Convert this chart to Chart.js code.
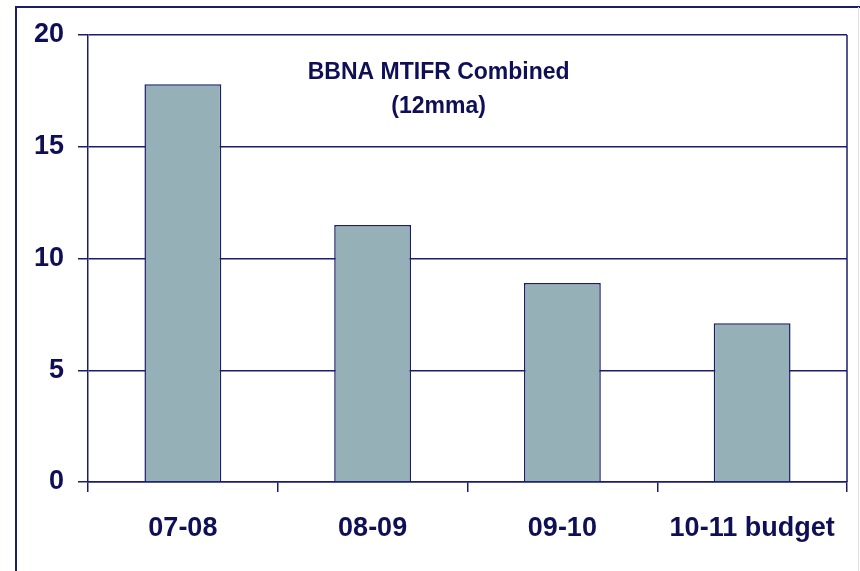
<!DOCTYPE html>
<html>
<head>
<meta charset="utf-8">
<script src="https://cdn.jsdelivr.net/npm/chart.js@4.4.0/dist/chart.umd.min.js"></script>
<style>
  html, body { margin: 0; padding: 0; background: #ffffff; }
  #wrap { position: relative; width: 860px; height: 571px; }
</style>
</head>
<body>
<div id="wrap"><canvas id="chart" width="860" height="571"></canvas></div>
<script>
// chart data
var categories = ["07-08", "08-09", "09-10", "10-11 budget"];
var mtifrValues = [17.8, 11.5, 8.9, 7.1];
var yMin = 0, yMax = 20, yStep = 5;
var titleLines = ["BBNA MTIFR Combined", "(12mma)"];

var navy = "#1c1c6c";
var textNavy = "#0f0f56";
var barFill = "#95b0b7";
var fontFamily = "'Liberation Sans', Arial, sans-serif";

// outer frame + plot box + the title inside the plot
var framePlugin = {
  id: "frame",
  beforeDraw: function(chart) {
    var ctx = chart.ctx;
    ctx.save();
    ctx.fillStyle = "#ffffff";
    ctx.fillRect(0, 0, chart.width, chart.height);
    ctx.strokeStyle = navy;
    ctx.lineWidth = 2;
    ctx.beginPath();
    ctx.moveTo(16, chart.height);
    ctx.lineTo(16, 7);
    ctx.lineTo(chart.width, 7);
    ctx.stroke();
    ctx.strokeStyle = "#dddddd";
    ctx.lineWidth = 1;
    ctx.beginPath();
    ctx.moveTo(858.5, 7);
    ctx.lineTo(858.5, chart.height);
    ctx.stroke();
    ctx.restore();
  },
  afterDraw: function(chart) {
    var ctx = chart.ctx;
    var area = chart.chartArea;
    ctx.save();
    // right edge of plot box
    ctx.strokeStyle = navy;
    ctx.lineWidth = 1.5;
    ctx.beginPath();
    ctx.moveTo(area.right, area.top);
    ctx.lineTo(area.right, area.bottom);
    ctx.stroke();
    // title
    ctx.fillStyle = textNavy;
    ctx.font = "bold 23px " + fontFamily;
    ctx.textAlign = "center";
    ctx.textBaseline = "alphabetic";
    var cx = area.left + (area.right - area.left) * 0.462;
    ctx.fillText(titleLines[0], cx, area.top + 44);
    ctx.fillText(titleLines[1], cx, area.top + 78);
    ctx.restore();
  }
};

var ctx = document.getElementById("chart").getContext("2d");
var myBarChart = new Chart(ctx, {
  type: "bar",
  data: {
    labels: categories,
    datasets: [{
      data: mtifrValues,
      backgroundColor: barFill,
      borderColor: navy,
      borderWidth: 1.5,
      borderSkipped: "bottom",
      barPercentage: 0.405,
      categoryPercentage: 1.0
    }]
  },
  options: {
    responsive: false,
    animation: false,
    maintainAspectRatio: false,
    layout: { padding: { top: 35, right: 13, left: 0, bottom: 0 } },
    plugins: {
      legend: { display: false },
      tooltip: { enabled: false },
      title: { display: false }
    },
    scales: {
      x: {
        grid: {
          display: true,
          offset: true,
          drawOnChartArea: false,
          drawTicks: true,
          tickLength: 10,
          color: navy,
          lineWidth: 1.5
        },
        border: { display: true, color: navy, width: 1.5 },
        ticks: {
          color: textNavy,
          padding: 20,
          maxRotation: 0,
          minRotation: 0,
          autoSkip: false,
          font: { family: fontFamily, size: 27, weight: "bold" }
        },
        afterFit: function(scale) { scale.height = 89; }
      },
      y: {
        min: yMin,
        max: yMax,
        grid: {
          color: navy,
          lineWidth: 1.5,
          tickLength: 10,
          drawTicks: true
        },
        border: { display: true, color: navy, width: 1.5 },
        ticks: {
          stepSize: yStep,
          color: textNavy,
          padding: 14,
          font: { family: fontFamily, size: 27, weight: "bold" }
        },
        afterFit: function(scale) { scale.width = 88; }
      }
    }
  },
  plugins: [framePlugin]
});
</script>
</body>
</html>
